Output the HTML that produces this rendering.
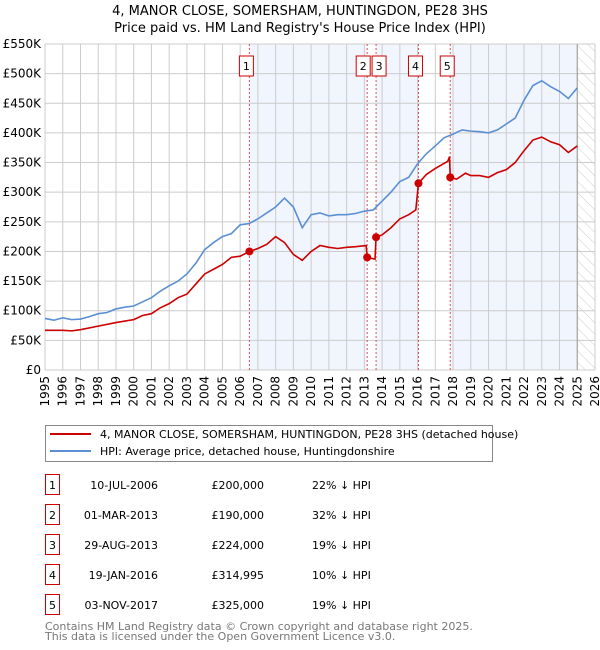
<!DOCTYPE html>
<html><head><meta charset="utf-8"><style>
body{margin:0;background:#fff;font-family:"DejaVu Sans","Liberation Sans",sans-serif;}
#wrap{position:relative;width:600px;height:650px;overflow:hidden}
svg text{font-family:"DejaVu Sans","Liberation Sans",sans-serif}
</style></head><body><div id="wrap">
<svg id="c" width="600" height="650"></svg>
</div>
<script>
const hpiYears=[1995,1995.5,1996,1996.5,1997,1997.5,1998,1998.5,1999,1999.5,2000,2000.5,2001,2001.5,2002,2002.5,2003,2003.5,2004,2004.5,2005,2005.5,2006,2006.5,2007,2007.5,2008,2008.5,2009,2009.5,2010,2010.5,2011,2011.5,2012,2012.5,2013,2013.5,2014,2014.5,2015,2015.5,2016,2016.5,2017,2017.5,2018,2018.5,2019,2019.5,2020,2020.5,2021,2021.5,2022,2022.5,2023,2023.5,2024,2024.5,2025];
const hpiValues=[87,84,88,85,86,90,95,97,103,106,108,115,122,133,142,150,162,180,203,215,225,230,245,247,255,265,275,290,275,240,262,265,260,262,262,264,268,270,285,300,318,325,348,365,378,392,398,405,403,402,400,405,415,425,455,480,488,478,470,458,476];
const priceYears=[1995,1996,1996.5,1997,1998,1999,2000,2000.5,2001,2001.5,2002,2002.5,2003,2003.5,2004,2004.5,2005,2005.5,2006,2006.52,2007,2007.5,2008,2008.5,2009,2009.5,2010,2010.5,2011,2011.5,2012,2012.5,2013.1,2013.16,2013.6,2013.66,2014,2014.5,2015,2015.5,2015.9,2016.05,2016.5,2017,2017.7,2017.8,2017.84,2018.2,2018.7,2019,2019.5,2020,2020.5,2021,2021.5,2022,2022.5,2023,2023.5,2024,2024.5,2025];
const priceValues=[67,67,66,68,74,80,85,92,95,105,112,122,128,145,162,170,178,190,192,200,205,212,225,215,195,185,200,210,207,205,207,208,210,190,187,224,228,240,255,262,270,315,330,340,352,360,325,322,332,328,328,325,333,338,350,370,388,393,385,380,367,378];
const saleYears=[2006.52,2013.16,2013.66,2016.05,2017.84];
const saleValues=[200,190,224,315,325];
const saleLabels=["1","2","3","4","5"];
const yTicks=[0,50,100,150,200,250,300,350,400,450,500,550];
const yTickLabels=["£0","£50K","£100K","£150K","£200K","£250K","£300K","£350K","£400K","£450K","£500K","£550K"];
const xTicks=[1995,1996,1997,1998,1999,2000,2001,2002,2003,2004,2005,2006,2007,2008,2009,2010,2011,2012,2013,2014,2015,2016,2017,2018,2019,2020,2021,2022,2023,2024,2025,2026];
const tableDates=["10-JUL-2006","01-MAR-2013","29-AUG-2013","19-JAN-2016","03-NOV-2017"];
const tablePrices=["£200,000","£190,000","£224,000","£314,995","£325,000"];
const tableHpi=["22% ↓ HPI","32% ↓ HPI","19% ↓ HPI","10% ↓ HPI","19% ↓ HPI"];

const L=45,R=595,T=44,B=370,X0=1995,X1=2026,YMAX=550,DATA_END=2025.0;
const xs=v=>L+(v-X0)/(X1-X0)*(R-L);
const ys=v=>B-v/YMAX*(B-T);
const NS="http://www.w3.org/2000/svg";
const svg=document.getElementById('c');
function mk(tag,attrs,parent){const e=document.createElementNS(NS,tag);for(const k in attrs)e.setAttribute(k,attrs[k]);(parent||svg).appendChild(e);return e;}

// title
let t=mk('text',{x:300,y:15,'text-anchor':'middle','font-size':13,fill:'#000'});t.textContent="4, MANOR CLOSE, SOMERSHAM, HUNTINGDON, PE28 3HS";


t=mk('text',{x:300,y:32,'text-anchor':'middle','font-size':13,fill:'#000'});t.textContent="Price paid vs. HM Land Registry's House Price Index (HPI)";



// shaded regions
const bounds=saleYears.concat([DATA_END]);
for(let i=0;i<bounds.length-1;i+=2){
 const r=mk('rect',{x:xs(bounds[i]),y:T,width:xs(bounds[i+1])-xs(bounds[i]),height:B-T,fill:'#eef3fc',opacity:0.8});
 
 
}
// hatched future
const defs=mk('defs',{});
const pat=mk('pattern',{id:'h',width:8,height:8,patternUnits:'userSpaceOnUse',patternTransform:'rotate(-45)'},defs);
mk('line',{x1:0,y1:0,x2:0,y2:8,stroke:'#ccc','stroke-width':1},pat);
const hz=mk('rect',{x:xs(DATA_END),y:T,width:R-xs(DATA_END),height:B-T,fill:'url(#h)'});



// grid
yTicks.forEach((v,i)=>{
 const g=mk('line',{x1:L,x2:R,y1:ys(v),y2:ys(v),stroke:'#ccc','stroke-width':1});
 
 
 const tx=mk('text',{x:L-4,y:ys(v)+4,'text-anchor':'end','font-size':12,fill:'#000'});tx.textContent=yTickLabels[i];
 
 
});
xTicks.forEach(v=>{
 const g=mk('line',{x1:xs(v),x2:xs(v),y1:T,y2:B,stroke:'#ccc','stroke-width':1});
 
 
 const tx=mk('text',{x:0,y:0,'text-anchor':'end','font-size':12,fill:'#000',transform:`translate(${xs(v)+4},${B+6}) rotate(-90)`});tx.textContent=v;
 
 
});
const dl=mk('line',{x1:xs(DATA_END),x2:xs(DATA_END),y1:T,y2:B,stroke:'#999','stroke-width':1});



// sale markers lines & labels
saleYears.forEach((v,i)=>{
 const l=mk('line',{x1:xs(v),x2:xs(v),y1:T,y2:B,stroke:'#e05050','stroke-width':1,'stroke-dasharray':'2,2'});
 
 
});
const labelOffsets=[-3,-3,3,-3,-3];
saleYears.forEach((v,i)=>{
 const cx=xs(v)+(i==1?-4:i==2?3:-3);
 const bx=mk('rect',{x:cx-7,y:56,width:14,height:20,fill:'#fff',stroke:'#c00','stroke-width':1});
 
 
 const tx=mk('text',{x:cx,y:70,'text-anchor':'middle','font-size':11,fill:'#000'});tx.textContent=saleLabels[i];
 
 
});

// lines
const hp=mk('polyline',{points:hpiYears.map((y,i)=>xs(y)+','+ys(hpiValues[i])).join(' '),fill:'none',stroke:'#5b8fd4','stroke-width':1.6});


const pp=mk('polyline',{points:priceYears.map((y,i)=>xs(y)+','+ys(priceValues[i])).join(' '),fill:'none',stroke:'#cc0000','stroke-width':1.6});


saleYears.forEach((v,i)=>{
 const d=mk('circle',{cx:xs(v),cy:ys(saleValues[i]),r:4,fill:'#cc0000'});
 
 
});

// legend
const lg=mk('rect',{x:45.5,y:425.5,width:447,height:36,fill:'#fff',stroke:'#888','stroke-width':1});


mk('line',{x1:50,x2:91,y1:434,y2:434,stroke:'#cc0000','stroke-width':2});
mk('line',{x1:50,x2:91,y1:451,y2:451,stroke:'#5b8fd4','stroke-width':2});
t=mk('text',{x:100,y:438,'font-size':11,fill:'#000'});t.textContent="4, MANOR CLOSE, SOMERSHAM, HUNTINGDON, PE28 3HS (detached house)";


t=mk('text',{x:100,y:455,'font-size':11,fill:'#000'});t.textContent="HPI: Average price, detached house, Huntingdonshire";



// table
tableDates.forEach((d,i)=>{
 const y=483+i*30;
 const b=mk('rect',{x:45.5,y:y-8.5,width:14,height:20,fill:'#fff',stroke:'#c00','stroke-width':1});
 
 
 let tx=mk('text',{x:52.5,y:y+6,'text-anchor':'middle','font-size':11,fill:'#000'});tx.textContent=saleLabels[i];
 
 
 tx=mk('text',{x:158,y:y+6,'text-anchor':'end','font-size':11,fill:'#000'});tx.textContent=d;
 
 
 tx=mk('text',{x:264,y:y+6,'text-anchor':'end','font-size':11,fill:'#000'});tx.textContent=tablePrices[i];
 
 
 tx=mk('text',{x:312,y:y+6,'font-size':11,fill:'#000'});tx.textContent=tableHpi[i];
 
 
});
t=mk('text',{x:45,y:630,'font-size':11,fill:'#777'});t.textContent="Contains HM Land Registry data © Crown copyright and database right 2025.";


t=mk('text',{x:45,y:640,'font-size':11,fill:'#777'});t.textContent="This data is licensed under the Open Government Licence v3.0.";


</script></body></html>
